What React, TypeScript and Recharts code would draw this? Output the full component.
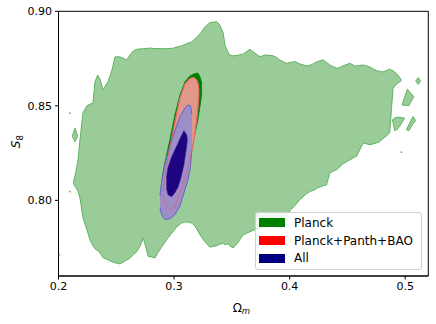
import React from "react";
import { ComposedChart, Area, Scatter, XAxis, YAxis, Legend, Label, ReferenceArea } from "recharts";

// [Omega_m, S8 low, S8 high]
const planckBlob: number[][] = [
  [0.2128, 0.8090, 0.8093], [0.2151, 0.8067, 0.8151], [0.2169, 0.8048, 0.8214], [0.2186, 0.8012, 0.8320],
  [0.2212, 0.7908, 0.8463], [0.2246, 0.7845, 0.8500], [0.2272, 0.7792, 0.8508], [0.2298, 0.7760, 0.8516],
  [0.2316, 0.7744, 0.8627], [0.2339, 0.7734, 0.8663], [0.2359, 0.7723, 0.8642], [0.2385, 0.7697, 0.8584],
  [0.2428, 0.7686, 0.8627], [0.2463, 0.7676, 0.8690], [0.2489, 0.7670, 0.8759], [0.2532, 0.7664, 0.8759],
  [0.2590, 0.7684, 0.8743], [0.2618, 0.7694, 0.8769], [0.2647, 0.7713, 0.8790], [0.2676, 0.7728, 0.8799],
  [0.2705, 0.7757, 0.8801], [0.2733, 0.7801, 0.8802], [0.2757, 0.7750, 0.8803], [0.2776, 0.7704, 0.8805],
  [0.2800, 0.7702, 0.8805], [0.2834, 0.7695, 0.8803], [0.2860, 0.7723, 0.8803], [0.2906, 0.7765, 0.8802],
  [0.2947, 0.7802, 0.8803], [0.2993, 0.7836, 0.8805], [0.3025, 0.7861, 0.8811], [0.3065, 0.7880, 0.8817],
  [0.3102, 0.7887, 0.8827], [0.3152, 0.7880, 0.8838], [0.3180, 0.7866, 0.8854], [0.3224, 0.7818, 0.8880],
  [0.3267, 0.7781, 0.8917], [0.3310, 0.7753, 0.8940], [0.3368, 0.7760, 0.8945], [0.3396, 0.7768, 0.8928],
  [0.3425, 0.7774, 0.8885], [0.3440, 0.7765, 0.8822], [0.3466, 0.7771, 0.8785], [0.3483, 0.7760, 0.8769],
  [0.3511, 0.7748, 0.8764], [0.3552, 0.7776, 0.8767], [0.3598, 0.7818, 0.8774], [0.3656, 0.7834, 0.8799],
  [0.3699, 0.7845, 0.8780], [0.3742, 0.7850, 0.8760], [0.3794, 0.7861, 0.8769], [0.3855, 0.7876, 0.8765],
  [0.3887, 0.7889, 0.8756], [0.3915, 0.7898, 0.8743], [0.3973, 0.7924, 0.8725], [0.4010, 0.7950, 0.8730],
  [0.4045, 0.7971, 0.8734], [0.4088, 0.8003, 0.8722], [0.4146, 0.8035, 0.8711], [0.4175, 0.8047, 0.8714],
  [0.4218, 0.8056, 0.8727], [0.4244, 0.8067, 0.8735], [0.4290, 0.8077, 0.8743], [0.4319, 0.8082, 0.8730],
  [0.4348, 0.8146, 0.8716], [0.4406, 0.8162, 0.8699], [0.4434, 0.8177, 0.8703], [0.4460, 0.8193, 0.8711],
  [0.4521, 0.8214, 0.8725], [0.4564, 0.8230, 0.8711], [0.4578, 0.8232, 0.8711], [0.4636, 0.8304, 0.8716],
  [0.4693, 0.8294, 0.8706], [0.4751, 0.8304, 0.8686], [0.4780, 0.8311, 0.8682], [0.4806, 0.8325, 0.8679],
  [0.4849, 0.8347, 0.8690], [0.4866, 0.8357, 0.8694], [0.4881, 0.8479, 0.8690], [0.4895, 0.8593, 0.8685],
  [0.4910, 0.8605, 0.8679], [0.4936, 0.8621, 0.8663], [0.4968, 0.8634, 0.8637],
];

const islandLeft: number[][] = [[0.2119, 0.8338, 0.8338], [0.2143, 0.8310, 0.8382], [0.2166, 0.8341, 0.8341]];
const islandA: number[][] = [[0.5091, 0.8632, 0.8632], [0.5113, 0.8614, 0.8649], [0.5132, 0.8632, 0.8632]];
const islandB: number[][] = [[0.4973, 0.8505, 0.8505], [0.5019, 0.8502, 0.8588], [0.5031, 0.8500, 0.8579], [0.5074, 0.8549, 0.8549]];
const islandC: number[][] = [[0.4890, 0.8426, 0.8426], [0.4910, 0.8368, 0.8436], [0.4936, 0.8378, 0.8440], [0.4996, 0.8435, 0.8435]];
const islandD: number[][] = [[0.5011, 0.8373, 0.8373], [0.5031, 0.8368, 0.8399], [0.5068, 0.8405, 0.8443], [0.5091, 0.8422, 0.8422]];
const islands = [islandLeft, islandA, islandB, islandC, islandD];

const strayDots: number[][] = [[0.2099, 0.8461], [0.2099, 0.8047], [0.2007, 0.7713], [0.4968, 0.8255]];

const planckCore: number[][] = [
  [0.2895, 0.8067, 0.8109], [0.2912, 0.8014, 0.8172], [0.2930, 0.7982, 0.8225], [0.2964, 0.7961, 0.8320],
  [0.3007, 0.7982, 0.8452], [0.3051, 0.8056, 0.8558], [0.3094, 0.8151, 0.8627], [0.3137, 0.8257, 0.8658],
  [0.3172, 0.8331, 0.8669], [0.3206, 0.8426, 0.8674], [0.3228, 0.8510, 0.8648], [0.3241, 0.8574, 0.8616],
];
const pantheonBao: number[][] = [
  [0.2904, 0.8035, 0.8045], [0.2917, 0.7993, 0.8109], [0.2930, 0.7971, 0.8172], [0.2964, 0.7950, 0.8278],
  [0.3007, 0.7966, 0.8415], [0.3051, 0.8040, 0.8542], [0.3094, 0.8119, 0.8616], [0.3137, 0.8214, 0.8645],
  [0.3172, 0.8320, 0.8650], [0.3198, 0.8436, 0.8637], [0.3211, 0.8521, 0.8611], [0.3215, 0.8563, 0.8574],
];
const allOuter: number[][] = [
  [0.2878, 0.7961, 0.8024], [0.2895, 0.7919, 0.8109], [0.2921, 0.7898, 0.8193], [0.2964, 0.7903, 0.8288],
  [0.3007, 0.7924, 0.8368], [0.3051, 0.7971, 0.8442], [0.3094, 0.8056, 0.8489], [0.3120, 0.8109, 0.8505],
  [0.3141, 0.8172, 0.8500], [0.3154, 0.8267, 0.8457],
];
const allInner: number[][] = [
  [0.2934, 0.8067, 0.8119], [0.2947, 0.8030, 0.8172], [0.2979, 0.8019, 0.8230], [0.3007, 0.8040, 0.8267],
  [0.3036, 0.8072, 0.8304], [0.3059, 0.8119, 0.8336], [0.3085, 0.8188, 0.8368], [0.3109, 0.8288, 0.8347],
  [0.3115, 0.8315, 0.8320],
];

const xDomain = [0.2, 0.52];
const yDomain = [0.76, 0.9];
const xTicks = [0.2, 0.3, 0.4, 0.5];
const yTicks = [0.8, 0.85, 0.9];
const legendNames = ["Planck", "Planck+Panth+BAO", "All"];
const legendColors = ["#008000", "#ff0000", "#000080"];

const toRows = (rows: number[][]) => rows.map(([x, lo, hi]) => ({ x, r: [lo, hi] }));
const toPts = (rows: number[][]) => rows.map(([x, y]) => ({ x, y }));

const FONT = "'DejaVu Sans', sans-serif";
const tickStyle = { fontFamily: FONT, fontSize: 11, fill: "#000" };

const LegendBox = () => (
  <div
    style={{
      boxSizing: "border-box",
      width: 167,
      height: 58,
      border: "1px solid #d0d0d0",
      borderRadius: 3,
      background: "rgba(255,255,255,0.85)",
      padding: "1px 0 0 3px",
      fontFamily: FONT,
      fontSize: 12,
      color: "#000",
    }}
  >
    {legendNames.map((n, i) => (
      <div key={n} style={{ display: "flex", alignItems: "center", height: 17.8 }}>
        <span style={{ display: "inline-block", width: 26, height: 9, background: legendColors[i], marginRight: 9 }} />
        <span style={{ lineHeight: "14px" }}>{n}</span>
      </div>
    ))}
  </div>
);

const YLab = (props: any) => {
  const vb = props.viewBox || { x: 0, y: 0, height: 0 };
  const cx = 20;
  const cy = vb.y + vb.height / 2 - 2;
  return (
    <text x={cx} y={cy} transform={`rotate(-90 ${cx} ${cy})`} textAnchor="middle" fontFamily={FONT} fontSize={12} fill="#000">
      <tspan fontStyle="italic">S</tspan>
      <tspan fontSize={8.5} dy={3}>8</tspan>
    </text>
  );
};

const XLab = (props: any) => {
  const vb = props.viewBox || { x: 0, width: 0 };
  const cx = vb.x + vb.width / 2 - 2;
  return (
    <text x={cx} y={311.5} textAnchor="middle" fontFamily={FONT} fontSize={12} fill="#000">
      <tspan>Ω</tspan>
      <tspan fontSize={8.5} fontStyle="italic" dy={2.5}>m</tspan>
    </text>
  );
};

export default function App() {
  const areaCommon = {
    type: "linear" as const,
    dataKey: "r",
    isAnimationActive: false,
    dot: false,
    activeDot: false,
    legendType: "none" as const,
    xAxisId: "b",
    yAxisId: "l",
  };
  return (
    <div style={{ position: "absolute", left: 0, top: 0, width: 436, height: 324 }}>
      <ComposedChart width={436} height={324} margin={{ top: 11.3, right: 7.7, bottom: 0, left: 0 }}>
        <XAxis
          xAxisId="b"
          type="number"
          dataKey="x"
          domain={xDomain}
          allowDataOverflow
          ticks={xTicks}
          tickFormatter={(v: number) => v.toFixed(1)}
          height={48}
          tickSize={3.5}
          tickMargin={3}
          tick={tickStyle}
          stroke="#000"
          axisLine={{ stroke: "#000", strokeWidth: 1 }}
          tickLine={{ stroke: "#000", strokeWidth: 1 }}
        >
          <Label content={<XLab />} />
        </XAxis>
        <YAxis
          yAxisId="l"
          type="number"
          domain={yDomain}
          allowDataOverflow
          ticks={yTicks}
          tickFormatter={(v: number) => v.toFixed(2)}
          width={58.5}
          tickSize={3.5}
          tickMargin={3}
          tick={tickStyle}
          stroke="#000"
          axisLine={{ stroke: "#000", strokeWidth: 1 }}
          tickLine={{ stroke: "#000", strokeWidth: 1 }}
        >
          <Label content={<YLab />} />
        </YAxis>

        <Area {...areaCommon} data={toRows(planckBlob)} fill="#99cc99" fillOpacity={1} stroke="#5fb35f" strokeWidth={1} />
        {islands.map((isl, i) => (
          <Area key={"isl" + i} {...areaCommon} data={toRows(isl)} fill="#99cc99" fillOpacity={1} stroke="#5fb35f" strokeWidth={1} />
        ))}
        <Scatter
          xAxisId="b"
          yAxisId="l"
          data={toPts(strayDots)}
          dataKey="y"
          isAnimationActive={false}
          legendType="none"
          shape={(p: any) => <circle cx={p.cx} cy={p.cy} r={0.9} fill="#6ab46a" />}
        />
        <Area {...areaCommon} data={toRows(planckCore)} fill="#008000" fillOpacity={1} stroke="#008000" strokeWidth={0.8} />
        <Area {...areaCommon} data={toRows(pantheonBao)} fill="#e29888" fillOpacity={1} stroke="#ee6a60" strokeWidth={1} />
        <Area {...areaCommon} data={toRows(allOuter)} fill="#9d8ec8" fillOpacity={1} stroke="#6262c6" strokeWidth={1} />
        <Area {...areaCommon} data={toRows(allInner)} fill="#1e0480" fillOpacity={1} stroke="#2a1a90" strokeWidth={0.6} />
        <Area {...areaCommon} data={toRows(pantheonBao)} fill="none" stroke="#e0606a" strokeWidth={0.9} strokeOpacity={0.8} />
        <ReferenceArea
          xAxisId="b"
          yAxisId="l"
          x1={xDomain[0]}
          x2={xDomain[1]}
          y1={yDomain[0]}
          y2={yDomain[1]}
          fill="none"
          fillOpacity={0}
          stroke="#000"
          strokeWidth={1}
          ifOverflow="visible"
        />
        <Legend
          layout="vertical"
          align="center"
          verticalAlign="middle"
          content={() => <LegendBox />}
          wrapperStyle={{ left: 255, top: 212, width: 167, height: 58 }}
        />
      </ComposedChart>
    </div>
  );
}
